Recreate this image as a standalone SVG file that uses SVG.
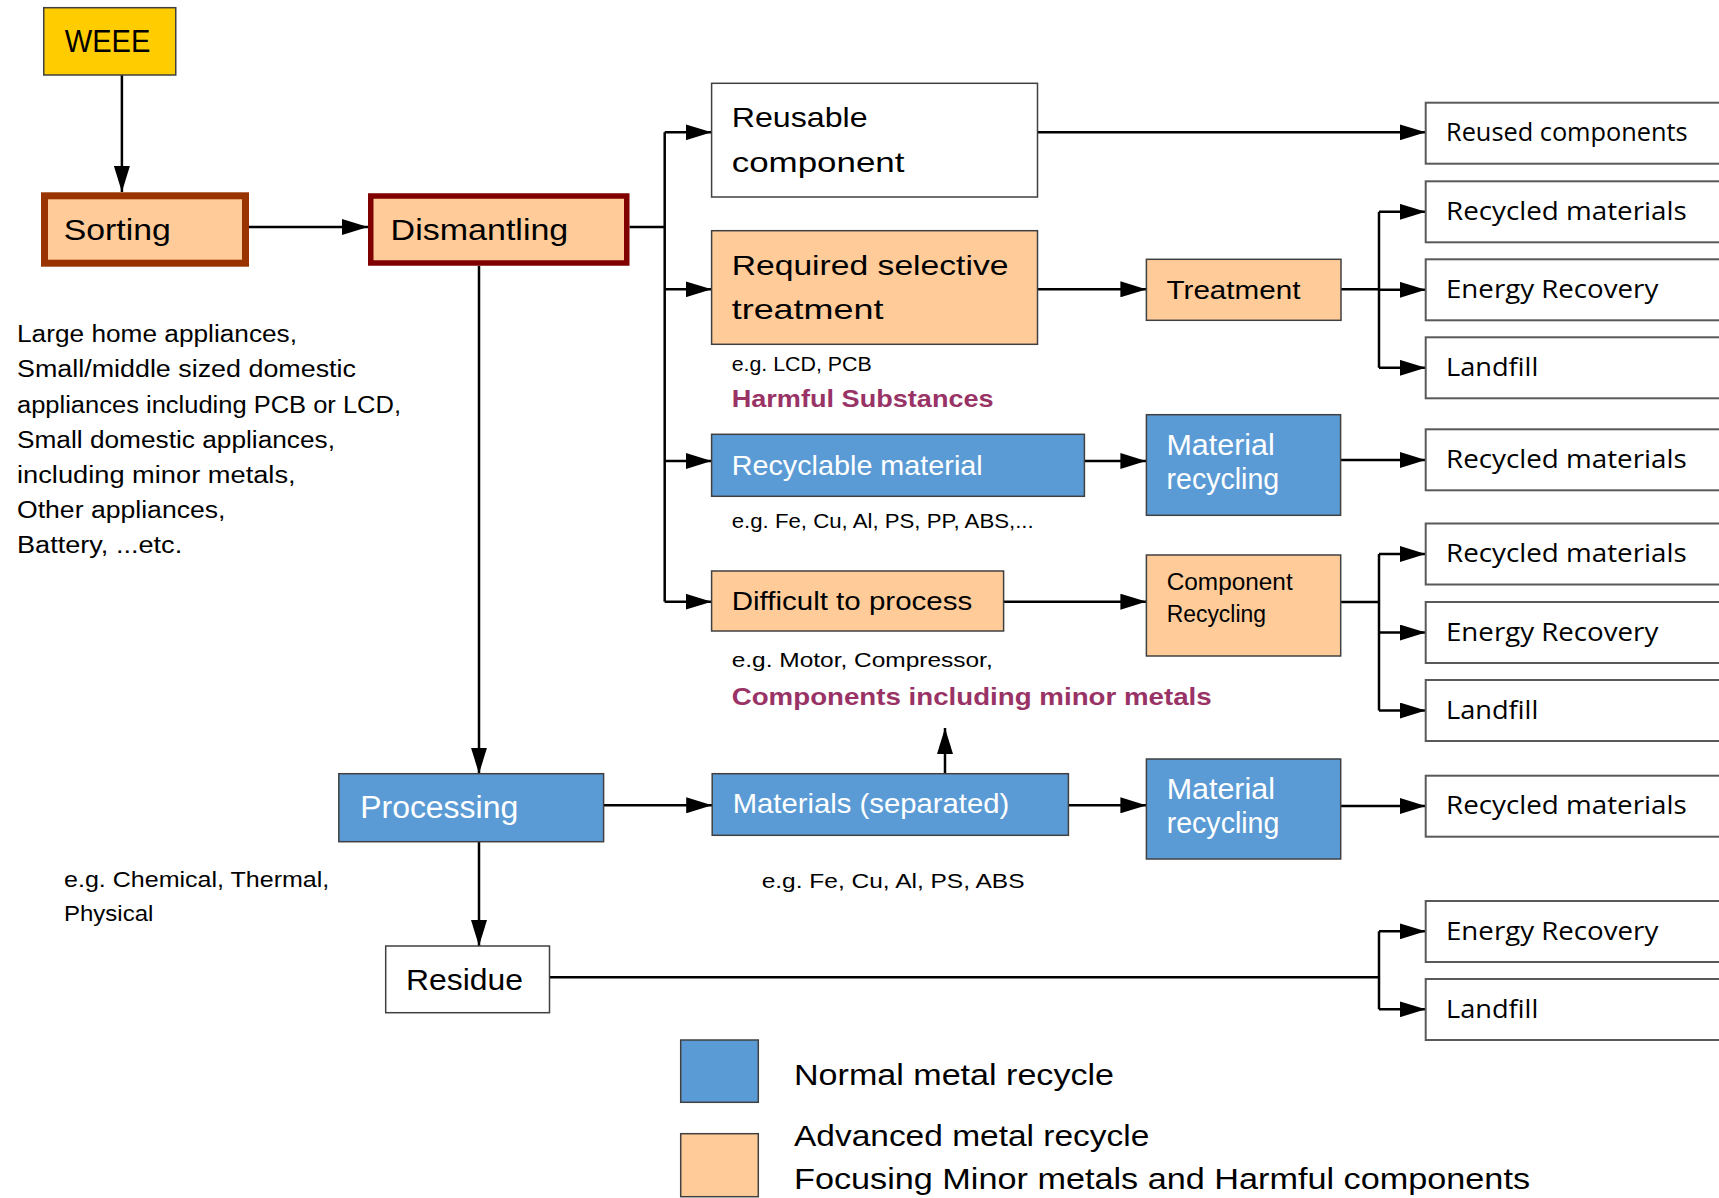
<svg xmlns="http://www.w3.org/2000/svg" width="1719" height="1198" viewBox="0 0 1719 1198">
  <style>
    .box { stroke: #404040; stroke-width: 1.5; }
    .org { fill: #FFCC99; }
    .blu { fill: #5B9BD5; }
    .wht { fill: #FFFFFF; }
    .out { fill: #FFFFFF; stroke: #595959; stroke-width: 2; }
    .t { font-family: "Liberation Sans", Arial, sans-serif; fill: #000000; }
    .w { fill: #FFFFFF; }
    .pur { font-weight: bold; fill: #993366; }
    .ro { font-family: "Open Sans", "Liberation Sans", sans-serif; font-size: 25.5px; fill: #000000; }
    .ln { stroke: #000000; stroke-width: 2.5; fill: none; }
    .arr { marker-end: url(#head); }
  </style>
  <defs>
    <marker id="head" markerUnits="userSpaceOnUse" markerWidth="26" markerHeight="16" refX="26" refY="8" orient="auto">
      <path d="M0,0 L26,8 L0,16 z" fill="#000000"/>
    </marker>
  </defs>
  <rect width="1719" height="1198" fill="#FFFFFF"/>

  <!-- connectors -->
  <g id="connectors">
    <line class="ln arr" x1="121.9" y1="75" x2="121.9" y2="192"/>
    <line class="ln arr" x1="249" y1="227" x2="368" y2="227"/>
    <!-- dismantling fan-out -->
    <polyline class="ln" points="629.5,227 664.7,227"/>
    <line class="ln" x1="664.7" y1="132.3" x2="664.7" y2="601.7"/>
    <line class="ln arr" x1="664.7" y1="132.3" x2="711.6" y2="132.3"/>
    <line class="ln arr" x1="664.7" y1="289.3" x2="711.6" y2="289.3"/>
    <line class="ln arr" x1="664.7" y1="461" x2="711.6" y2="461"/>
    <line class="ln arr" x1="664.7" y1="601.7" x2="711.6" y2="601.7"/>
    <!-- middle column -->
    <line class="ln arr" x1="1037.5" y1="132.3" x2="1425.7" y2="132.3"/>
    <line class="ln arr" x1="1037.5" y1="289.3" x2="1146.4" y2="289.3"/>
    <line class="ln arr" x1="1084.4" y1="461" x2="1146.4" y2="461"/>
    <line class="ln arr" x1="1003.6" y1="601.7" x2="1146.4" y2="601.7"/>
    <!-- treatment fan-out -->
    <line class="ln" x1="1341" y1="289.3" x2="1379" y2="289.3"/>
    <line class="ln" x1="1379" y1="211.8" x2="1379" y2="367.8"/>
    <line class="ln arr" x1="1379" y1="211.8" x2="1425.7" y2="211.8"/>
    <line class="ln arr" x1="1379" y1="289.8" x2="1425.7" y2="289.8"/>
    <line class="ln arr" x1="1379" y1="367.8" x2="1425.7" y2="367.8"/>
    <!-- material recycling -->
    <line class="ln arr" x1="1340.6" y1="460" x2="1425.7" y2="460"/>
    <!-- component recycling fan-out -->
    <line class="ln" x1="1340.7" y1="602" x2="1379" y2="602"/>
    <line class="ln" x1="1379" y1="554" x2="1379" y2="710.5"/>
    <line class="ln arr" x1="1379" y1="554" x2="1425.7" y2="554"/>
    <line class="ln arr" x1="1379" y1="632.5" x2="1425.7" y2="632.5"/>
    <line class="ln arr" x1="1379" y1="710.5" x2="1425.7" y2="710.5"/>
    <!-- processing branch -->
    <line class="ln arr" x1="479" y1="265.7" x2="479" y2="773.7"/>
    <line class="ln arr" x1="603.6" y1="805.3" x2="712.2" y2="805.3"/>
    <line class="ln arr" x1="945" y1="773.7" x2="945" y2="728"/>
    <line class="ln arr" x1="1068.4" y1="805.3" x2="1146.4" y2="805.3"/>
    <line class="ln arr" x1="1340.7" y1="806" x2="1425.7" y2="806"/>
    <line class="ln arr" x1="479" y1="841.7" x2="479" y2="946"/>
    <!-- residue fan-out -->
    <line class="ln" x1="549.5" y1="977.3" x2="1379" y2="977.3"/>
    <line class="ln" x1="1379" y1="931.3" x2="1379" y2="1009.3"/>
    <line class="ln arr" x1="1379" y1="931.3" x2="1425.7" y2="931.3"/>
    <line class="ln arr" x1="1379" y1="1009.3" x2="1425.7" y2="1009.3"/>
  </g>

  <!-- source and first stages -->
  <g id="weee">
    <rect class="box" x="43.75" y="7.7" width="132" height="67.3" fill="#FFCC00"/>
    <text class="t" x="64.7" y="52.3" font-size="31" textLength="85.7" lengthAdjust="spacingAndGlyphs">WEEE</text>
  </g>
  <g id="sorting">
    <rect x="44.5" y="195.8" width="201" height="67.4" fill="#FFCC99" stroke="#993300" stroke-width="7"/>
    <text class="t" x="63.8" y="240" font-size="30" textLength="107" lengthAdjust="spacingAndGlyphs">Sorting</text>
  </g>
  <g id="dismantling">
    <rect x="370.75" y="196" width="256" height="67" fill="#FFCC99" stroke="#800000" stroke-width="5.5"/>
    <text class="t" x="390.6" y="240" font-size="30" textLength="177.7" lengthAdjust="spacingAndGlyphs">Dismantling</text>
  </g>
  <g id="appliance-list" class="t" font-size="23">
    <text x="17" y="341.7" textLength="280" lengthAdjust="spacingAndGlyphs">Large home appliances,</text>
    <text x="17" y="377.3" textLength="339" lengthAdjust="spacingAndGlyphs">Small/middle sized domestic</text>
    <text x="17" y="412.7" textLength="384" lengthAdjust="spacingAndGlyphs">appliances including PCB or LCD,</text>
    <text x="17" y="447.7" textLength="318" lengthAdjust="spacingAndGlyphs">Small domestic appliances,</text>
    <text x="17" y="483" textLength="278.6" lengthAdjust="spacingAndGlyphs">including minor metals,</text>
    <text x="17" y="518.3" textLength="208.5" lengthAdjust="spacingAndGlyphs">Other appliances,</text>
    <text x="17" y="553.3" textLength="165.2" lengthAdjust="spacingAndGlyphs">Battery, ...etc.</text>
  </g>

  <!-- dismantled streams -->
  <g id="reusable">
    <rect class="box wht" x="711.6" y="83.3" width="325.9" height="113.7"/>
    <text class="t" x="731.7" y="126.7" font-size="28" textLength="136" lengthAdjust="spacingAndGlyphs">Reusable</text>
    <text class="t" x="731.7" y="171.7" font-size="28" textLength="172.8" lengthAdjust="spacingAndGlyphs">component</text>
  </g>
  <g id="selective">
    <rect class="box org" x="711.6" y="230.7" width="325.9" height="113.6"/>
    <text class="t" x="731.7" y="275" font-size="28" textLength="276.8" lengthAdjust="spacingAndGlyphs">Required selective</text>
    <text class="t" x="731.7" y="319.3" font-size="28" textLength="151.8" lengthAdjust="spacingAndGlyphs">treatment</text>
    <text class="t" x="731.7" y="370.7" font-size="19.6" textLength="140" lengthAdjust="spacingAndGlyphs">e.g. LCD, PCB</text>
    <text class="t pur" x="731.7" y="406.7" font-size="24.5" textLength="262" lengthAdjust="spacingAndGlyphs">Harmful Substances</text>
  </g>
  <g id="treatment">
    <rect class="box org" x="1146.4" y="259.3" width="194.6" height="61"/>
    <text class="t" x="1166.5" y="299" font-size="25.5" textLength="134" lengthAdjust="spacingAndGlyphs">Treatment</text>
  </g>
  <g id="recyclable">
    <rect class="box blu" x="711.6" y="434.3" width="372.8" height="62"/>
    <text class="t w" x="731.7" y="475" font-size="28" textLength="251" lengthAdjust="spacingAndGlyphs">Recyclable material</text>
    <text class="t" x="731.7" y="527.7" font-size="20" textLength="302" lengthAdjust="spacingAndGlyphs">e.g. Fe, Cu, Al, PS, PP, ABS,...</text>
  </g>
  <g id="material-recycling-1">
    <rect class="box blu" x="1146.4" y="414.7" width="194.2" height="100.6"/>
    <text class="t w" x="1166.5" y="454.7" font-size="29" textLength="108.3" lengthAdjust="spacingAndGlyphs">Material</text>
    <text class="t w" x="1166.5" y="489" font-size="29" textLength="112.7" lengthAdjust="spacingAndGlyphs">recycling</text>
  </g>
  <g id="difficult">
    <rect class="box org" x="711.6" y="571" width="292" height="60"/>
    <text class="t" x="731.7" y="610" font-size="25.6" textLength="240.6" lengthAdjust="spacingAndGlyphs">Difficult to process</text>
    <text class="t" x="731.7" y="666.7" font-size="21" textLength="261" lengthAdjust="spacingAndGlyphs">e.g. Motor, Compressor,</text>
    <text class="t pur" x="731.7" y="704.5" font-size="24.5" textLength="480" lengthAdjust="spacingAndGlyphs">Components including minor metals</text>
  </g>
  <g id="component-recycling">
    <rect class="box org" x="1146.4" y="555" width="194.3" height="101"/>
    <text class="t" x="1166.7" y="590" font-size="23" textLength="126" lengthAdjust="spacingAndGlyphs">Component</text>
    <text class="t" x="1166.7" y="621.7" font-size="23" textLength="99.3" lengthAdjust="spacingAndGlyphs">Recycling</text>
  </g>

  <!-- processing stream -->
  <g id="processing">
    <rect class="box blu" x="338.8" y="773.7" width="264.8" height="68"/>
    <text class="t w" x="360.2" y="818.3" font-size="31" textLength="158" lengthAdjust="spacingAndGlyphs">Processing</text>
    <text class="t" x="64" y="886.7" font-size="22.3" textLength="265.3" lengthAdjust="spacingAndGlyphs">e.g. Chemical, Thermal,</text>
    <text class="t" x="64" y="921" font-size="22.3" textLength="89.3" lengthAdjust="spacingAndGlyphs">Physical</text>
  </g>
  <g id="materials-separated">
    <rect class="box blu" x="712.2" y="773.7" width="356.2" height="61.6"/>
    <text class="t w" x="732.7" y="813.3" font-size="28" textLength="276.5" lengthAdjust="spacingAndGlyphs">Materials (separated)</text>
    <text class="t" x="761.7" y="888.3" font-size="21" textLength="262.8" lengthAdjust="spacingAndGlyphs">e.g. Fe, Cu, Al, PS, ABS</text>
  </g>
  <g id="material-recycling-2">
    <rect class="box blu" x="1146.4" y="759" width="194.3" height="100"/>
    <text class="t w" x="1166.7" y="799" font-size="29" textLength="108.3" lengthAdjust="spacingAndGlyphs">Material</text>
    <text class="t w" x="1166.7" y="833.3" font-size="29" textLength="112.7" lengthAdjust="spacingAndGlyphs">recycling</text>
  </g>
  <g id="residue">
    <rect class="box wht" x="385.7" y="946" width="163.8" height="66.7"/>
    <text class="t" x="406" y="990" font-size="30" textLength="117" lengthAdjust="spacingAndGlyphs">Residue</text>
  </g>

  <!-- outcomes -->
  <g id="out-reused"><rect class="out" x="1425.7" y="102.7" width="300" height="61"/><text class="ro" x="1446" y="141.2" textLength="241.7" lengthAdjust="spacingAndGlyphs">Reused components</text></g>
  <g id="out-recycled-1"><rect class="out" x="1425.7" y="181.3" width="300" height="61"/><text class="ro" x="1446" y="219.8" textLength="240.7" lengthAdjust="spacingAndGlyphs">Recycled materials</text></g>
  <g id="out-energy-1"><rect class="out" x="1425.7" y="259.3" width="300" height="61"/><text class="ro" x="1446" y="297.8" textLength="212.3" lengthAdjust="spacingAndGlyphs">Energy Recovery</text></g>
  <g id="out-landfill-1"><rect class="out" x="1425.7" y="337.3" width="300" height="61"/><text class="ro" x="1446" y="375.8" textLength="92.3" lengthAdjust="spacingAndGlyphs">Landfill</text></g>
  <g id="out-recycled-2"><rect class="out" x="1425.7" y="429.3" width="300" height="61"/><text class="ro" x="1446" y="467.8" textLength="240.7" lengthAdjust="spacingAndGlyphs">Recycled materials</text></g>
  <g id="out-recycled-3"><rect class="out" x="1425.7" y="523.5" width="300" height="61"/><text class="ro" x="1446" y="562" textLength="240.7" lengthAdjust="spacingAndGlyphs">Recycled materials</text></g>
  <g id="out-energy-2"><rect class="out" x="1425.7" y="602" width="300" height="61"/><text class="ro" x="1446" y="640.5" textLength="212.3" lengthAdjust="spacingAndGlyphs">Energy Recovery</text></g>
  <g id="out-landfill-2"><rect class="out" x="1425.7" y="680" width="300" height="61"/><text class="ro" x="1446" y="718.5" textLength="92.3" lengthAdjust="spacingAndGlyphs">Landfill</text></g>
  <g id="out-recycled-4"><rect class="out" x="1425.7" y="775.7" width="300" height="61"/><text class="ro" x="1446" y="814.2" textLength="240.7" lengthAdjust="spacingAndGlyphs">Recycled materials</text></g>
  <g id="out-energy-3"><rect class="out" x="1425.7" y="901" width="300" height="61"/><text class="ro" x="1446" y="939.5" textLength="212.3" lengthAdjust="spacingAndGlyphs">Energy Recovery</text></g>
  <g id="out-landfill-3"><rect class="out" x="1425.7" y="979" width="300" height="61"/><text class="ro" x="1446" y="1017.5" textLength="92.3" lengthAdjust="spacingAndGlyphs">Landfill</text></g>

  <!-- legend -->
  <g id="legend">
    <rect class="box blu" x="680.7" y="1040" width="77.6" height="62.3"/>
    <rect class="box org" x="680.7" y="1133.7" width="77.6" height="63"/>
    <text class="t" x="794" y="1085" font-size="30" textLength="320" lengthAdjust="spacingAndGlyphs">Normal metal recycle</text>
    <text class="t" x="794" y="1146" font-size="30" textLength="355.3" lengthAdjust="spacingAndGlyphs">Advanced metal recycle</text>
    <text class="t" x="794" y="1189" font-size="30" textLength="736" lengthAdjust="spacingAndGlyphs">Focusing Minor metals and Harmful components</text>
  </g>
</svg>
